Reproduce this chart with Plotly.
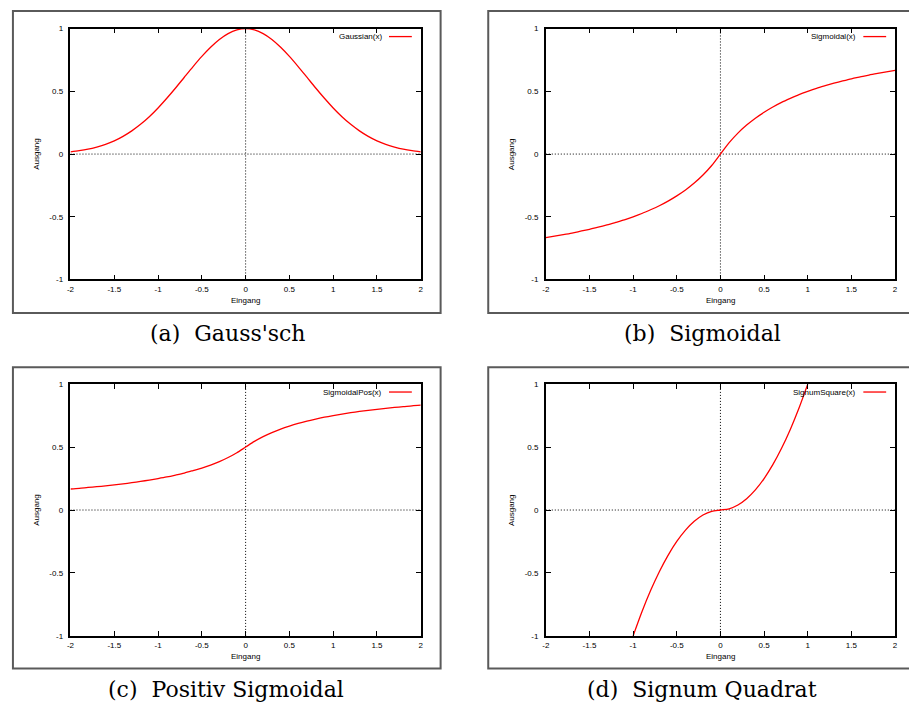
import plotly.graph_objects as go

W, H = 909, 711

# ---------------- data ----------------
x_full = [-2.0, -1.9, -1.8, -1.7, -1.6, -1.5, -1.4, -1.3, -1.2, -1.1, -1.0,
          -0.9, -0.8, -0.7, -0.6, -0.5, -0.4, -0.3, -0.2, -0.1, 0.0,
          0.1, 0.2, 0.3, 0.4, 0.5, 0.6, 0.7, 0.8, 0.9, 1.0,
          1.1, 1.2, 1.3, 1.4, 1.5, 1.6, 1.7, 1.8, 1.9, 2.0]

gaussian = [0.018, 0.027, 0.039, 0.056, 0.077, 0.105, 0.141, 0.185, 0.237, 0.298, 0.368,
            0.445, 0.527, 0.613, 0.698, 0.779, 0.852, 0.914, 0.961, 0.990, 1.000,
            0.990, 0.961, 0.914, 0.852, 0.779, 0.698, 0.613, 0.527, 0.445, 0.368,
            0.298, 0.237, 0.185, 0.141, 0.105, 0.077, 0.056, 0.039, 0.027, 0.018]

sigmoidal = [-0.667, -0.655, -0.643, -0.630, -0.615, -0.600, -0.583, -0.565, -0.545, -0.524, -0.500,
             -0.474, -0.444, -0.412, -0.375, -0.333, -0.286, -0.231, -0.167, -0.091, 0.000,
             0.091, 0.167, 0.231, 0.286, 0.333, 0.375, 0.412, 0.444, 0.474, 0.500,
             0.524, 0.545, 0.565, 0.583, 0.600, 0.615, 0.630, 0.643, 0.655, 0.667]

sigmoidal_pos = [0.167, 0.172, 0.179, 0.185, 0.192, 0.200, 0.208, 0.217, 0.227, 0.238, 0.250,
                 0.263, 0.278, 0.294, 0.313, 0.333, 0.357, 0.385, 0.417, 0.455, 0.500,
                 0.545, 0.583, 0.615, 0.643, 0.667, 0.688, 0.706, 0.722, 0.737, 0.750,
                 0.762, 0.773, 0.783, 0.792, 0.800, 0.808, 0.815, 0.821, 0.828, 0.833]

x_sq = [-1.0, -0.9, -0.8, -0.7, -0.6, -0.5, -0.4, -0.3, -0.2, -0.1, 0.0,
        0.1, 0.2, 0.3, 0.4, 0.5, 0.6, 0.7, 0.8, 0.9, 1.0]
signum_square = [-1.00, -0.81, -0.64, -0.49, -0.36, -0.25, -0.16, -0.09, -0.04, -0.01, 0.00,
                 0.01, 0.04, 0.09, 0.16, 0.25, 0.36, 0.49, 0.64, 0.81, 1.00]

x_tickvals = [-2, -1.5, -1, -0.5, 0, 0.5, 1, 1.5, 2]
x_ticktext = ["-2", "-1.5", "-1", "-0.5", "0", "0.5", "1", "1.5", "2"]
y_tickvals = [-1, -0.5, 0, 0.5, 1]
y_ticktext = ["-1", "-0.5", "0", "0.5", "1"]

series_names = ["Gaussian(x)", "Sigmoidal(x)", "SigmoidalPos(x)", "SignumSquare(x)"]
captions = ["(a)  Gauss'sch", "(b)  Sigmoidal", "(c)  Positiv Sigmoidal", "(d)  Signum Quadrat"]
x_label = "Eingang"
y_label = "Ausgang"

# ---------------- layout geometry (pixels) ----------------
def px(v):
    return v / W

def py(v):
    return 1 - v / H

# plot area per panel: (left, right, top, bottom)
plots = [(67, 420, 25, 279), (546, 898, 25, 279),
         (67, 420, 385, 640), (546, 898, 385, 640)]
# outer boxes
boxes = [(9, 440, 7, 313), (488, 914, 7, 313),
         (9, 440, 368, 673), (488, 914, 368, 673)]
caption_pos = [(226, 334), (704, 334), (224, 694), (703, 694)]

xs = [x_full, x_full, x_full, x_sq]
ys = [gaussian, sigmoidal, sigmoidal_pos, signum_square]

fig = go.Figure()
layout = dict(
    width=W, height=H, autosize=False,
    margin=dict(l=0, r=0, t=0, b=0),
    paper_bgcolor="white", plot_bgcolor="white",
    showlegend=False,
    font=dict(family="Liberation Sans, Arial, sans-serif", size=8, color="black"),
)
shapes = []
annotations = []

tickfont = dict(family="Liberation Sans, Arial, sans-serif", size=8, color="black")

for i in range(4):
    n = "" if i == 0 else str(i + 1)
    xa, ya = "x" + n, "y" + n
    l, r, t, b = plots[i]
    fig.add_trace(go.Scatter(
        x=xs[i], y=ys[i], mode="lines", xaxis=xa, yaxis=ya,
        line=dict(color="#ff0000", width=1.3, shape="spline", smoothing=0.8),
        name=series_names[i], cliponaxis=True,
    ))
    common = dict(showgrid=False, zeroline=False, showline=True, linecolor="black",
                  linewidth=1.5, mirror="allticks", ticks="inside", ticklen=5,
                  tickwidth=1, tickcolor="black", tickfont=tickfont, fixedrange=True)
    layout["xaxis" + n] = dict(common, domain=[px(l), px(r)], range=[-2, 2],
                               tickmode="array", tickvals=x_tickvals, ticktext=x_ticktext,
                               anchor=ya, ticklabelstandoff=1)
    layout["yaxis" + n] = dict(common, domain=[py(b), py(t)], range=[-1, 1],
                               tickmode="array", tickvals=y_tickvals, ticktext=y_ticktext,
                               anchor=xa, ticklabelstandoff=4)
    # dotted zero lines
    shapes.append(dict(type="line", xref=xa, yref=ya, x0=-2, x1=2, y0=0, y1=0,
                       line=dict(color="black", width=1, dash="1px,2px"), layer="below"))
    shapes.append(dict(type="line", xref=xa, yref=ya, x0=0, x1=0, y0=-1, y1=1,
                       line=dict(color="black", width=1, dash="1px,2px"), layer="below"))
    # outer panel box
    bl, br, bt, bb = boxes[i]
    shapes.append(dict(type="rect", xref="paper", yref="paper",
                       x0=px(bl), x1=px(br), y0=py(bb), y1=py(bt),
                       line=dict(color="#5a5a5a", width=2), layer="below"))
    # key (legend) line sample and text
    ky = t + 8
    shapes.append(dict(type="line", xref="paper", yref="paper",
                       x0=px(r - 32), x1=px(r - 9), y0=py(ky), y1=py(ky),
                       line=dict(color="#ff0000", width=1.3)))
    annotations.append(dict(text=series_names[i], xref="paper", yref="paper",
                            x=px(r - 37), y=py(ky), xanchor="right", yanchor="middle",
                            showarrow=False, font=dict(size=8, color="black")))
    # axis titles
    annotations.append(dict(text=x_label, xref="paper", yref="paper",
                            x=px((l + r) / 2), y=py(b + 21), xanchor="center", yanchor="middle",
                            showarrow=False, font=dict(size=8, color="black")))
    annotations.append(dict(text=y_label, xref="paper", yref="paper",
                            x=px(l - 35), y=py((t + b) / 2), xanchor="center", yanchor="middle",
                            textangle=-90, showarrow=False, font=dict(size=8, color="black")))
    # caption
    cx, cy = caption_pos[i]
    annotations.append(dict(text=captions[i], xref="paper", yref="paper",
                            x=px(cx), y=py(cy), xanchor="center", yanchor="middle",
                            showarrow=False,
                            font=dict(family="DejaVu Serif, serif", size=22, color="black")))

layout["shapes"] = shapes
layout["annotations"] = annotations
fig.update_layout(**layout)
fig.write_html("out.html")
